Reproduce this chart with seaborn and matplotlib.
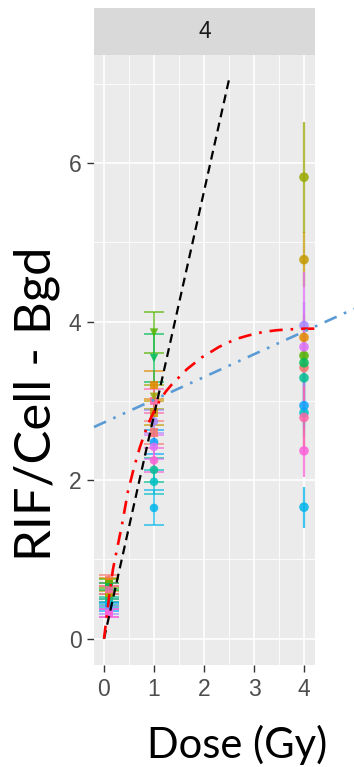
import numpy as np
import pandas as pd
import matplotlib
matplotlib.use("Agg")
import matplotlib.pyplot as plt
import seaborn as sns

# ---------------- data ----------------
groups = [f"S{i+1}" for i in range(14)]
doses = [0.1, 1.0, 4.0]
vals_d01 = [0.75, 0.72, 0.55, 0.52, 0.70, 0.66, 0.48, 0.45, 0.42, 0.40, 0.36, 0.33, 0.32, 0.62]
errs_d01 = [0.05, 0.05, 0.05, 0.05, 0.06, 0.05, 0.05, 0.05, 0.05, 0.05, 0.05, 0.05, 0.05, 0.05]
vals_d1 = [2.60, 3.20, 2.85, 3.05, 3.86, 3.54, 2.13, 1.98, 1.65, 2.48, 2.74, 2.42, 2.25, 3.00]
errs_d1 = [0.15, 0.18, 0.15, 0.15, 0.26, 0.30, 0.15, 0.15, 0.22, 0.15, 0.15, 0.15, 0.15, 0.15]
vals_d4 = [3.42, 3.80, 4.78, 5.82, 3.57, 3.48, 3.29, 2.85, 1.66, 2.94, 3.95, 3.68, 2.37, 2.79]
errs_d4 = [0.30, 0.30, 0.35, 0.70, 0.30, 0.30, 0.30, 0.30, 0.26, 0.30, 0.30, 0.95, 0.33, 0.40]

# annotation curves
lin_x = [0.0, 2.5]
lin_y = [0.0, 7.05]
sat_x = [0.0, 0.1, 0.18, 0.36, 0.48, 0.6, 0.72, 0.82, 0.92, 1.02, 1.12, 1.24, 1.36, 1.52, 1.66, 1.8, 1.96, 2.12, 2.3, 2.5, 2.7, 2.86, 3.05, 3.2, 3.45, 3.66, 4.0, 4.22]
sat_y = [0.0, 0.52, 0.88, 1.44, 1.86, 2.16, 2.42, 2.60, 2.76, 2.89, 3.01, 3.12, 3.21, 3.31, 3.40, 3.47, 3.55, 3.61, 3.68, 3.74, 3.79, 3.82, 3.85, 3.87, 3.89, 3.90, 3.91, 3.91]
blue_x = [-0.2, 5.0]
blue_y = [2.67, 4.16]

xticks = [0, 1, 2, 3, 4]
yticks = [0, 2, 4, 6]
strip_label = "4"
xlabel = "Dose (Gy)"
ylabel = "RIF/Cell - Bgd"

# ---------------- palette (ggplot hue) ----------------
def hcl(h, c=100.0, l=65.0):
    h = np.deg2rad(h)
    L = l
    u = c * np.cos(h)
    v = c * np.sin(h)
    Xn, Yn, Zn = 95.047, 100.0, 108.883
    un = 4 * Xn / (Xn + 15 * Yn + 3 * Zn)
    vn = 9 * Yn / (Xn + 15 * Yn + 3 * Zn)
    Y = Yn * ((L + 16) / 116) ** 3 if L > 8 else Yn * L / 903.3
    up = u / (13 * L) + un
    vp = v / (13 * L) + vn
    X = 9 * Y * up / (4 * vp)
    Z = Y * (12 - 3 * up - 20 * vp) / (4 * vp)
    X, Y, Z = X / 100, Y / 100, Z / 100
    r = 3.2404542 * X - 1.5371385 * Y - 0.4985314 * Z
    g = -0.9692660 * X + 1.8760108 * Y + 0.0415560 * Z
    b = 0.0556434 * X - 0.2040259 * Y + 1.0572252 * Z
    def gam(t):
        t = max(0.0, min(1.0, t))
        return 12.92 * t if t <= 0.0031308 else 1.055 * t ** (1 / 2.4) - 0.055
    return (gam(r), gam(g), gam(b))

n = len(groups)
palette = {g: hcl(15 + i * 360.0 / n) for i, g in enumerate(groups)}

rows = []
for d, vals, errs in [(doses[0], vals_d01, errs_d01), (doses[1], vals_d1, errs_d1), (doses[2], vals_d4, errs_d4)]:
    for g, v, e in zip(groups, vals, errs):
        rows.append({"group": g, "dose": d, "rif": v, "err": e})
df = pd.DataFrame(rows)

# ---------------- figure ----------------
sns.set_theme(style="darkgrid")
plt.rcParams["font.family"] = ["Liberation Sans", "DejaVu Sans"]

W, H = 354, 767
fig = plt.figure(figsize=(W / 100, H / 100), dpi=100)
L0, R0, B0, T0 = 94, 315, 665, 55
ax = fig.add_axes([L0 / W, 1 - B0 / H, (R0 - L0) / W, (B0 - T0) / H])
ax.set_facecolor("#EBEBEB")

ax.set_xlim(-0.2, 4.22)
ax.set_ylim(-0.33, 7.36)

# grids
ax.grid(False)
for xv in [0.5, 1.5, 2.5, 3.5]:
    ax.axvline(xv, color="white", lw=0.6, zorder=0.5)
for yv in [1, 3, 5, 7]:
    ax.axhline(yv, color="white", lw=0.6, zorder=0.5)
for xv in xticks:
    ax.axvline(xv, color="white", lw=1.2, zorder=0.6)
for yv in yticks:
    ax.axhline(yv, color="white", lw=1.2, zorder=0.6)

# error bars
for _, r in df.iterrows():
    col = palette[r["group"]]
    cap = 0 if r["dose"] == 4.0 else 7.5
    lw = 1.6 if r["dose"] == 4.0 else 1.2
    ax.errorbar(r["dose"], r["rif"], yerr=r["err"], fmt="none", ecolor=col,
                elinewidth=lw, capsize=cap, capthick=1.2, alpha=0.75, zorder=2)

# points
markers_d1 = {g: m for g, m in zip(groups, ["s", "s", "s", "v", "v", "v", "o", "o", "o", "o", "o", "o", "o", "s"])}
sub = df[df["dose"] == 0.1]
sns.scatterplot(data=sub, x="dose", y="rif", hue="group", palette=palette, marker="s",
                s=26, linewidth=0, alpha=0.8, legend=False, ax=ax, zorder=3)
sub = df[df["dose"] == 1.0]
for mk in ["s", "v", "o"]:
    s2 = sub[sub["group"].map(markers_d1) == mk]
    sns.scatterplot(data=s2, x="dose", y="rif", hue="group", palette=palette, marker=mk,
                    s=38, linewidth=0, alpha=0.85, legend=False, ax=ax, zorder=3)
sub = df[df["dose"] == 4.0]
sns.scatterplot(data=sub, x="dose", y="rif", hue="group", palette=palette, marker="o",
                s=48, linewidth=0, alpha=0.85, legend=False, ax=ax, zorder=3)

# annotation lines
ax.plot(lin_x, lin_y, color="black", lw=1.6, dashes=(4, 2.5), zorder=5)
ax.plot(sat_x, sat_y, color="#FF0000", lw=1.9, dashes=(5, 3, 1, 3), zorder=5)
ax.plot(blue_x, blue_y, color="#5B9BD5", lw=1.9, dashes=(5, 3, 1, 3, 1, 3), zorder=5, clip_on=False)

# ticks
ax.set_xticks(xticks)
ax.set_yticks(yticks)
ax.set_xticklabels([str(t) for t in xticks], fontsize=16.5, color="#4D4D4D")
ax.set_yticklabels([str(t) for t in yticks], fontsize=16.5, color="#4D4D4D")
ax.tick_params(axis="both", length=5, width=1.0, color="#333333", pad=4, bottom=True, left=True)
ax.set_xlabel("")
ax.set_ylabel("")
for sp in ax.spines.values():
    sp.set_visible(False)

# strip
sax = fig.add_axes([L0 / W, 1 - T0 / H, (R0 - L0) / W, (T0 - 8) / H])
sax.set_facecolor("#D9D9D9")
sax.set_xticks([])
sax.set_yticks([])
for sp in sax.spines.values():
    sp.set_visible(False)
sax.text(0.5, 0.5, strip_label, ha="center", va="center", fontsize=16.5, color="#1A1A1A",
         transform=sax.transAxes)

# axis labels (slide text)
fig.text(37 / W, 1 - 404 / H, ylabel, rotation=90, ha="center", va="center",
         fontsize=36.5, family=["Lato", "DejaVu Sans"], color="black")
fig.text(237 / W, 1 - 745 / H, xlabel, ha="center", va="center",
         fontsize=30, family=["Lato", "DejaVu Sans"], color="black")

fig.savefig("out.png", dpi=100)
